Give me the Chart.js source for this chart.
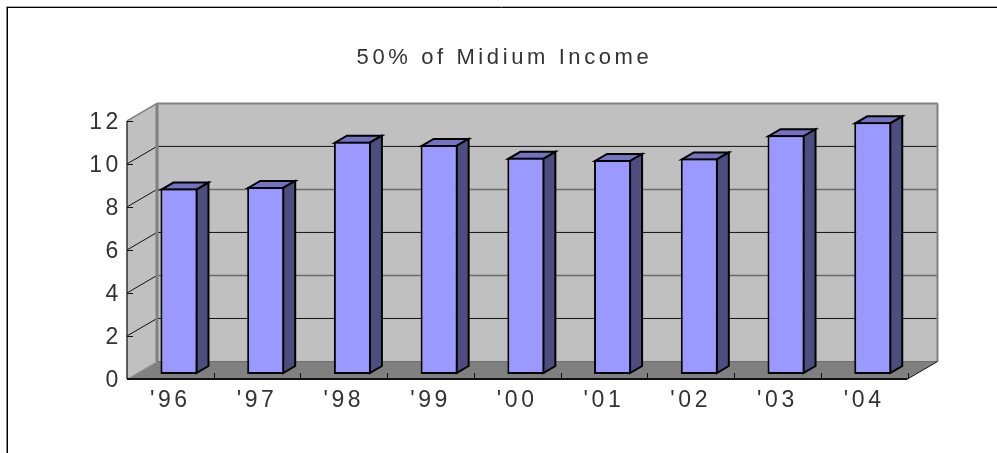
<!DOCTYPE html>
<html>
<head>
<meta charset="utf-8">
<title>50% of Midium Income</title>
<style>
  html, body { margin: 0; padding: 0; background: #fff; overflow: hidden; }
  canvas { display: block; }
</style>
<script src="https://cdn.jsdelivr.net/npm/chart.js@4/dist/chart.umd.min.js"></script>
</head>
<body>
<canvas id="myChart" width="997" height="453"></canvas>
<script>
const chartTitle = '50% of Midium Income';
const years = ["'96", "'97", "'98", "'99", "'00", "'01", "'02", "'03", "'04"];
const income = [8.62, 8.7, 10.8, 10.65, 10.05, 9.95, 10.02, 11.1, 11.7];
const yMax = 12;
const yStep = 2;

// fake 3d: how far the back wall sits from the front plane
const wallDx = 30;
const wallDy = 17.5;
// bars stand a bit behind the front plane and have their own depth
const barDx = 8.6;
const barDy = 5;
const barDepthX = 12;
const barDepthY = 7;

const textColor = '#333';
const fontFamily = '"Liberation Sans", Arial, sans-serif';

function poly(ctx, pts, fill, stroke, width) {
  ctx.beginPath();
  pts.forEach((p, i) => (i ? ctx.lineTo(p[0], p[1]) : ctx.moveTo(p[0], p[1])));
  ctx.closePath();
  if (fill) { ctx.fillStyle = fill; ctx.fill(); }
  if (stroke) { ctx.strokeStyle = stroke; ctx.lineWidth = width || 1; ctx.stroke(); }
}

function line(ctx, x1, y1, x2, y2, color, width) {
  ctx.beginPath();
  ctx.moveTo(x1, y1);
  ctx.lineTo(x2, y2);
  ctx.strokeStyle = color;
  ctx.lineWidth = width;
  ctx.stroke();
}

const box3d = {
  id: 'box3d',
  beforeDraw(chart) {
    chart.ctx.letterSpacing = '3.6px';
  },
  beforeDatasetsDraw(chart) {
    const { ctx, chartArea: a, scales } = chart;
    const y = scales.y;
    const backL = a.left + wallDx;
    const backR = a.right + wallDx;
    const y0 = y.getPixelForValue(0);
    const yTop = y.getPixelForValue(yMax);

    ctx.save();
    // outer frame of the picture
    line(ctx, 6, 6.5, chart.width, 6.5, '#b0b0b0', 1);
    line(ctx, 6, 7.5, chart.width, 7.5, '#000', 1);
    line(ctx, 6.5, 7, 6.5, chart.height, '#808080', 1);
    line(ctx, 7.5, 7, 7.5, chart.height, '#000', 1);

    // walls and floor
    poly(ctx, [[backL, yTop - wallDy], [backR, yTop - wallDy], [backR, y0 - wallDy], [backL, y0 - wallDy]], '#c0c0c0');
    poly(ctx, [[a.left, yTop], [backL, yTop - wallDy], [backL, y0 - wallDy], [a.left, y0]], '#c0c0c0');
    poly(ctx, [[a.left, y0], [a.right, y0], [backR, y0 - wallDy], [backL, y0 - wallDy]], '#808080');

    // gridlines on the back wall and their diagonals on the left wall
    for (let v = yStep; v < yMax; v += yStep) {
      const py = y.getPixelForValue(v);
      const soft = v % 4 === 0;
      line(ctx, backL, py - wallDy, backR, py - wallDy, soft ? '#6a6a6a' : '#111', soft ? 1.6 : 1);
      line(ctx, a.left, py, backL, py - wallDy, '#111', 1);
    }
    line(ctx, a.left, y0, backL, y0 - wallDy, '#a0a0a0', 1);

    // wall edges
    line(ctx, backL, yTop - wallDy, backR, yTop - wallDy, '#808080', 2);
    line(ctx, backR, yTop - wallDy, backR, y0 - wallDy, '#808080', 2);
    line(ctx, backL, yTop - wallDy, backL, y0 - wallDy, '#808080', 3);
    line(ctx, a.left, yTop, backL, yTop - wallDy, '#808080', 1.5);
    line(ctx, backL, y0 - wallDy, backR, y0 - wallDy, '#6e6e6e', 1);
    ctx.restore();
  },
  beforeDatasetDraw(chart, args) {
    const ctx = chart.ctx;
    ctx.save();
    ctx.translate(barDx, -barDy);
    ctx.lineJoin = 'miter';
    args.meta.data.forEach(bar => {
      const r = bar.x + bar.width / 2 - 1;
      const l = bar.x - bar.width / 2 + 1;
      const top = bar.y + 1;
      const base = bar.base - 1;
      poly(ctx, [[l, top], [r, top], [r + barDepthX, top - barDepthY], [l + barDepthX, top - barDepthY]], '#7373bf', '#000', 2);
      poly(ctx, [[r, top], [r + barDepthX, top - barDepthY], [r + barDepthX, base - barDepthY], [r, base]], '#4d4d80', '#000', 2);
    });
  },
  afterDatasetDraw(chart) {
    chart.ctx.restore();
  },
  afterDatasetsDraw(chart) {
    const { ctx, chartArea: a, scales } = chart;
    const { x, y } = scales;
    const y0 = y.getPixelForValue(0);
    const step = x.getPixelForValue(1) - x.getPixelForValue(0);
    ctx.save();
    line(ctx, a.left, y.getPixelForValue(yMax), a.left, y0, '#333', 1.5);
    line(ctx, a.left, y0, a.right, y0, '#111', 2);
    line(ctx, a.right, y0, a.right + wallDx, y0 - wallDy, '#111', 1);
    for (let v = 0; v <= yMax; v += yStep) {
      const py = Math.round(y.getPixelForValue(v)) + 0.5;
      line(ctx, a.left, py, a.left + 6, py, '#111', 1);
    }
    years.forEach((_, i) => {
      const px = Math.round(x.getPixelForValue(i) + step / 2) + 0.5;
      line(ctx, px, y0, px, y0 - 6, '#111', 1);
    });
    ctx.restore();
  }
};

const chartRef = document.getElementById('myChart');
new Chart(chartRef.getContext('2d'), {
  type: 'bar',
  data: {
    labels: years,
    datasets: [{
      label: chartTitle,
      data: income,
      backgroundColor: '#9999ff',
      borderColor: '#000',
      borderWidth: 2,
      borderSkipped: false,
      categoryPercentage: 1,
      barPercentage: 0.427,
      clip: false
    }]
  },
  options: {
    responsive: false,
    animation: false,
    layout: { padding: { left: 12, right: 0, top: 0, bottom: 0 } },
    plugins: {
      legend: { display: false },
      tooltip: { enabled: false },
      title: {
        display: true,
        text: chartTitle,
        color: textColor,
        font: { family: fontFamily, size: 22, weight: 'normal', lineHeight: 1.2 },
        padding: { top: 44.5, bottom: 50 }
      }
    },
    scales: {
      x: {
        grid: { display: false, drawTicks: false },
        border: { display: false },
        ticks: {
          color: textColor,
          font: { family: fontFamily, size: 23 },
          padding: 8,
          maxRotation: 0
        },
        afterFit(s) { s.height = 74; }
      },
      y: {
        min: 0,
        max: yMax,
        grid: { display: false, drawTicks: false },
        border: { display: false },
        ticks: {
          stepSize: yStep,
          color: textColor,
          font: { family: fontFamily, size: 23 },
          padding: 5,
          labelOffset: 2
        },
        afterFit(s) { s.width = 115; }
      },
      spacer: {
        position: 'right',
        grid: { display: false },
        border: { display: false },
        ticks: { display: false },
        afterFit(s) { s.width = 89.5; }
      }
    }
  },
  plugins: [box3d]
});
</script>
</body>
</html>
